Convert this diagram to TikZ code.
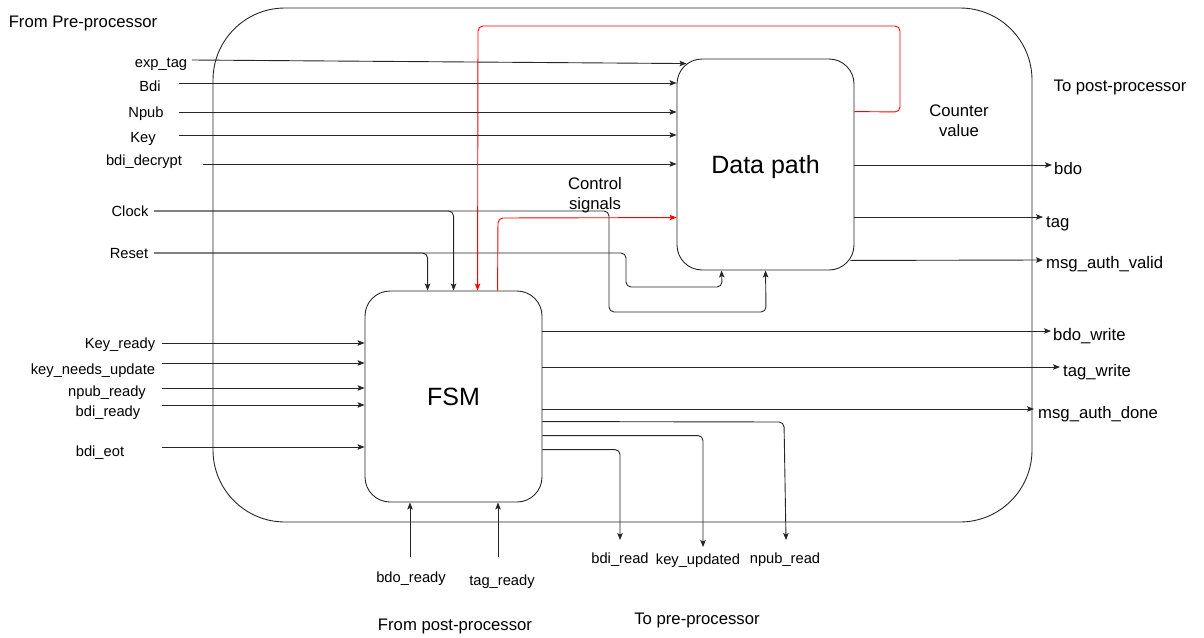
\documentclass[tikz,border=0pt]{standalone}
\usepackage{fontspec}
\setmainfont{Liberation Sans}
\usetikzlibrary{arrows.meta,calc}
\begin{document}
\begin{tikzpicture}[x=1pt,y=-1pt,
  wire/.style={draw=black!85, line width=0.9pt, rounded corners=5pt},
  sig/.style={wire, -{Stealth[length=7pt,width=5.5pt,inset=1.5pt]}},
  ctl/.style={sig, draw=red, fill=none, -{Stealth[length=7pt,width=5.5pt,inset=1.5pt,fill=red]}},
  block/.style={draw=black!85, line width=0.9pt, rounded corners=25pt,
    minimum width=177pt, minimum height=211pt, font=\fontsize{25}{30}\selectfont},
  lbl/.style={inner sep=0pt, yshift=-1.5pt, font=\fontsize{14.7}{17}\selectfont, text height=10.8pt, text depth=3pt},
  big/.style={inner sep=0pt, yshift=-1.5pt, font=\fontsize{16.7}{20}\selectfont, align=center},
  olbl/.style={inner sep=0pt, font=\fontsize{16.7}{20}\selectfont, anchor=west, yshift=-1pt, text height=12.2pt, text depth=3.4pt}]
\useasboundingbox (0,0) rectangle (1204,637);

% enclosing unit
\node[draw=black!85, line width=0.9pt, rounded corners=72pt,
      minimum width=819pt, minimum height=514pt] (core) at (622.5,265) {};

% blocks
\node[block] (dp)  at (765.5,164.5) {};
\node[font=\fontsize{25}{30}\selectfont] (dpt) at ($(dp.center)+(0,2.5)$) {Data path};
\node[block] (fsm) at (453.5,396.5) {FSM};

% group headings
\node[big] (hpre)  at (83,22)   {From Pre-processor};
\node[big] (hpost) at (1120,86) {To post-processor};
\node[big] (hfpp)  at (455,625) {From post-processor};
\node[big] (htpp)  at (697,619) {To pre-processor};
\node[big] (hctl)  at (595,194) {Control\\signals};
\node[big] (hcnt)  at (959,119) {Counter\\value};

% inputs to the data path
\node[lbl] (lexp) at (161,62)  {exp\_tag};
\node[lbl] (lbdi) at (150,86)  {Bdi};
\node[lbl] (lnpb) at (146,112) {Npub};
\node[lbl] (lkey) at (143,137) {Key};
\node[lbl] (ldec) at (144,160) {bdi\_decrypt};
\node[lbl] (lclk) at (130,211) {Clock};
\node[lbl] (lrst) at (129,253) {Reset};
\coordinate (iexp) at (192,60);
\coordinate (ibdi) at (179,83);
\coordinate (inpb) at (179,112);
\coordinate (ikey) at (179,135);
\coordinate (idec) at (203,164);
\coordinate (iclk) at (154,211);
\coordinate (irst) at (154,253);
\draw[sig] (iexp) -- ($(dp.north west)+(10,5)$);
\draw[sig] (ibdi) -- (ibdi -| dp.west);
\draw[sig] (inpb) -- (inpb -| dp.west);
\draw[sig] (ikey) -- (ikey -| dp.west);
\draw[sig] (idec) -- (idec -| dp.west);

% clock and reset
\draw[sig] (iclk) -| ($(fsm.north west)+(89,0)$);
\draw[sig] (iclk) -- (609,211) -- (609,312) -- (766,312) -- ($(dp.south west)+(89,0)$);
\draw[sig] (irst) -| ($(fsm.north west)+(63,0)$);
\draw[sig] (irst) -- (626,253) -- (626,287) -- (722,287) -- ($(dp.south west)+(45,0)$);

% counter value and control signals
\draw[ctl] ($(dp.north east)+(0,53)$) -- (900,112) -- (900,26) -- (478,26) -- ($(fsm.north west)+(113,0)$);
\draw[ctl] ($(fsm.north west)+(133,0)$) -- (498,218) -- ($(dp.north west)+(0,159)$);

% data path outputs
\coordinate (obdo) at (1052,165);
\coordinate (otag) at (1043,217);
\coordinate (oval) at (1043,260);
\draw[sig] (obdo -| dp.east) -- (obdo);
\draw[sig] (otag -| dp.east) -- (otag);
\draw[sig] ($(dp.south east)+(-4,-10)$) -- (oval);
\node[olbl] (lbdo) at (1054,169) {bdo};
\node[olbl] (ltag) at (1046,222) {tag};
\node[olbl] (lval) at (1046,263) {msg\_auth\_valid};

% FSM inputs
\node[lbl] (lkr)  at (120,343) {Key\_ready};
\node[lbl] (lknu) at (93,369)  {key\_needs\_update};
\node[lbl] (lnr)  at (107,391) {npub\_ready};
\node[lbl] (lbr)  at (108,411) {bdi\_ready};
\node[lbl] (leot) at (100,451) {bdi\_eot};
\coordinate (ikr)  at (162,343);
\coordinate (iknu) at (162,363);
\coordinate (inr)  at (162,388);
\coordinate (ibr)  at (162,405);
\coordinate (ieot) at (162,447);
\draw[sig] (ikr)  -- (ikr  -| fsm.west);
\draw[sig] (iknu) -- (iknu -| fsm.west);
\draw[sig] (inr)  -- (inr  -| fsm.west);
\draw[sig] (ibr)  -- (ibr  -| fsm.west);
\draw[sig] (ieot) -- (ieot -| fsm.west);

% handshakes from the post-processor
\node[lbl] (lbdr) at (411,577) {bdo\_ready};
\node[lbl] (ltgr) at (502,580) {tag\_ready};
\coordinate (ibdr) at (410,557);
\coordinate (itgr) at (498,557);
\draw[sig] (ibdr) -- (ibdr |- fsm.south);
\draw[sig] (itgr) -- (itgr |- fsm.south);

% FSM outputs
\coordinate (obw) at (1051,331);
\coordinate (otw) at (1060,367);
\coordinate (oad) at (1034,409);
\draw[sig] (obw -| fsm.east) -- (obw);
\draw[sig] (otw -| fsm.east) -- (otw);
\draw[sig] (oad -| fsm.east) -- (oad);
\node[olbl] (lbw) at (1053,335) {bdo\_write};
\node[olbl] (ltw) at (1063,371) {tag\_write};
\node[olbl] (lad) at (1038,413) {msg\_auth\_done};

% read/update strobes to the pre-processor
\coordinate (onr) at (786,540);
\coordinate (oku) at (703,547);
\coordinate (obr) at (620,540);
\draw[sig] ($(fsm.north east)+(0,131)$) -- (784,422) -- (onr);
\draw[sig] ($(fsm.north east)+(0,145)$) -| (oku);
\draw[sig] ($(fsm.north east)+(0,159)$) -| (obr);
\node[lbl] (lbrd) at (620,558) {bdi\_read};
\node[lbl] (lkup) at (698,559) {key\_updated};
\node[lbl] (lnrd) at (785,558) {npub\_read};
\end{tikzpicture}
\end{document}
